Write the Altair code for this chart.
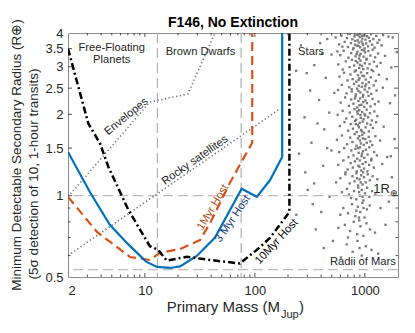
import altair as alt
import pandas as pd

FONT = "Liberation Sans"
AX = "#262626"

# ---------------- curves (Primary mass [M_Jup], radius [R_earth]) ----------------
m_1myr = [2, 3.67, 7.32, 11.1, 13.7, 20.9, 31.7, 39.2, 59.3, 86.6, 94.6, 94.6]
r_1myr = [0.99, 0.734, 0.593, 0.578, 0.614, 0.635, 0.685, 0.792, 1.116, 1.474, 1.57, 4.0]

m_3myr = [2, 3.17, 4.8, 7.0, 10.25, 12.9, 16.9, 20.9, 29.6, 43.4, 75.8, 104, 137, 177, 177]
r_3myr = [1.45, 1.03, 0.78, 0.663, 0.57, 0.545, 0.54, 0.547, 0.598, 0.70, 1.06, 0.99, 1.14, 1.39, 4.0]

m_10myr = [2, 3.06, 3.91, 4.65, 7.08, 11.1, 13.2, 15.8, 24.0, 39.2, 73, 104, 137, 206, 206]
r_10myr = [3.5, 1.85, 1.56, 1.28, 0.885, 0.65, 0.63, 0.575, 0.594, 0.578, 0.561, 0.63, 0.697, 0.87, 4.0]

m_env = [2, 11.1, 24.6, 43.4]
r_env = [0.99, 2.22, 2.38, 4.0]

m_rocky = [2, 170]
r_rocky = [0.6, 2.1]

h_lines = [1.0, 0.532]
v_lines = [13, 75]

# ---------------- stars (mass, radius) ----------------
stars = [
    (612,3.91),(687,3.83),(733,3.97),(768,3.79),(805,3.88),(838,3.94),(861,3.76),(897,3.86),(923,3.99),(948,3.81),(977,3.92),(1013,3.78),
    (1046,3.89),(1089,3.84),(1137,3.96),(1192,3.8),(1268,3.9),(1351,3.77),(542,3.85),(1463,3.93),(455,3.8),(1637,3.88),(868,3.93),(941,3.9),
    (583,3.63),(655,3.71),(702,3.55),(747,3.67),(789,3.52),(817,3.74),(846,3.59),(879,3.69),(906,3.54),(933,3.72),(962,3.61),(994,3.51),
    (1027,3.66),(1068,3.57),(1109,3.73),(1163,3.62),(1224,3.53),(1302,3.68),(624,3.56),(1417,3.6),(392,3.67),(872,3.58),(957,3.65),(812,3.62),
    (597,3.31),(641,3.44),(709,3.24),(752,3.37),(781,3.48),(823,3.28),(853,3.41),(884,3.22),(915,3.35),(939,3.46),(971,3.27),(1003,3.39),
    (1038,3.21),(1074,3.43),(1121,3.3),(1177,3.47),(1239,3.25),(1318,3.36),(563,3.42),(1526,3.29),(498,3.33),(896,3.3),(987,3.45),(841,3.34),
    (574,3.06),(629,2.93),(671,3.14),(726,2.99),(763,3.18),(798,3.03),(829,2.91),(858,3.11),(887,2.97),(912,3.16),(944,3.02),(968,2.94),
    (999,3.09),(1032,3.19),(1061,2.96),(1102,3.07),(1151,2.92),(1208,3.13),(1283,3.01),(1389,3.1),(347,3.04),(1741,2.98),(902,3.05),(826,3.15),
    (588,2.76),(646,2.85),(694,2.67),(739,2.81),(774,2.7),(809,2.88),(836,2.64),(866,2.79),(893,2.72),(921,2.86),(952,2.61),(983,2.77),
    (1017,2.69),(1049,2.84),(1086,2.63),(1131,2.74),(1189,2.89),(1257,2.66),(1342,2.8),(441,2.73),(296,2.84),(1583,2.7),(951,2.78),(877,2.68),
    (569,2.46),(617,2.57),(681,2.39),(721,2.52),(758,2.43),(794,2.59),(826,2.37),(849,2.49),(881,2.55),(909,2.41),(937,2.53),(965,2.36),
    (996,2.47),(1024,2.58),(1057,2.42),(1096,2.5),(1142,2.38),(1201,2.56),(1276,2.45),(1455,2.51),(527,2.4),(873,2.44),(1003,2.54),(759,2.48),
    (603,2.21),(662,2.31),(716,2.15),(751,2.27),(786,2.19),(821,2.33),(852,2.12),(874,2.24),(903,2.29),(929,2.17),(957,2.32),(986,2.13),
    (1011,2.25),(1043,2.2),(1079,2.34),(1124,2.14),(1172,2.28),(1233,2.18),(1329,2.23),(383,2.26),(1692,2.2),(892,2.16),(966,2.22),(812,2.29),
    (566,1.99),(628,2.06),(677,1.93),(729,2.03),(768,1.96),(803,2.09),(833,1.91),(862,2.01),(889,2.07),(918,1.94),(946,2.04),(974,1.92),
    (1006,1.98),(1039,2.08),(1071,1.95),(1113,2.02),(1157,1.9),(1219,2.05),(1297,1.97),(474,2.03),(283,1.95),(911,1.99),(851,2.05),(992,2.0),
    (592,1.81),(653,1.87),(705,1.74),(744,1.84),(779,1.77),(815,1.89),(843,1.72),(869,1.82),(897,1.86),(926,1.75),(955,1.88),(981,1.71),
    (1015,1.79),(1048,1.85),(1087,1.73),(1128,1.83),(1183,1.78),(1264,1.87),(1481,1.8),(427,1.76),(883,1.79),(939,1.73),(827,1.84),
    (557,1.61),(619,1.67),(689,1.55),(736,1.64),(771,1.58),(807,1.69),(839,1.53),(864,1.63),(891,1.66),(919,1.56),(947,1.68),(976,1.54),
    (1008,1.62),(1041,1.57),(1082,1.65),(1119,1.59),(1167,1.54),(1247,1.66),(1374,1.6),(327,1.57),(1862,1.62),(902,1.6),(958,1.63),
    (584,1.45),(648,1.5),(709,1.39),(753,1.47),(788,1.41),(822,1.49),(851,1.37),(877,1.44),(905,1.51),(933,1.4),(961,1.46),(989,1.38),
    (1021,1.48),(1058,1.42),(1097,1.51),(1146,1.37),(1213,1.45),(1286,1.41),(496,1.47),(252,1.43),(1594,1.39),(868,1.5),(941,1.43),
    (573,1.3),(637,1.35),(697,1.25),(742,1.32),(777,1.27),(812,1.34),(843,1.23),(872,1.29),(899,1.35),(927,1.24),(954,1.31),(984,1.26),
    (1016,1.33),(1052,1.23),(1094,1.3),(1143,1.35),(1208,1.27),(667,1.22),(418,1.29),(1436,1.31),(893,1.28),(962,1.22),
    (598,1.16),(664,1.2),(728,1.11),(771,1.18),(804,1.13),(838,1.21),(866,1.09),(894,1.15),(924,1.19),(953,1.1),(982,1.17),(1018,1.12),
    (1061,1.2),(1109,1.14),(1176,1.18),(549,1.12),(1297,1.15),(346,1.11),(1761,1.17),(915,1.12),(848,1.16),
    (618,1.03),(687,1.06),(748,0.98),(797,1.04),(836,0.97),(871,1.07),(903,1.0),(936,1.05),(968,0.96),(1003,1.02),(1047,1.07),(1098,0.99),
    (1163,1.04),(716,1.01),(478,0.99),(1248,1.01),(302,1.05),(885,1.03),(952,0.99),
    (638,0.9),(703,0.86),(764,0.93),(818,0.84),(862,0.91),(907,0.87),(948,0.94),(993,0.83),(1043,0.89),(1106,0.92),(597,0.85),(835,0.88),
    (401,0.87),(1387,0.9),(884,0.83),(971,0.9),
    (657,0.78),(733,0.74),(792,0.8),(851,0.72),(912,0.77),(968,0.71),(1034,0.79),(702,0.7),(574,0.76),(358,0.75),(1236,0.73),(889,0.81),(1112,0.75),
    (683,0.66),(774,0.62),(857,0.68),(938,0.6),(1019,0.65),(606,0.59),(423,0.64),(1147,0.63),(893,0.64),
    (262,3.6),(318,2.45),(371,1.85),(287,1.22),(336,0.93),(409,3.35),(237,2.9),(455,1.5),(1950,3.4),(1880,2.35),(1720,1.4),
    (1650,0.95),(1540,0.78),(1790,3.85),(238,0.85),(512,0.68),(1320,0.61),
]

# ---------------- ticks ----------------
x_tick_labels = [2, 10, 100, 1000]
y_tick_labels = [0.5, 1, 1.5, 2, 2.5, 3, 3.5, 4]
x_major = [10, 100, 1000]
x_minor = [3, 4, 5, 6, 7, 8, 9, 20, 30, 40, 50, 60, 70, 80, 90, 200, 300, 400, 500, 600, 700, 800, 900]
y_major = [1, 1.5, 2, 2.5, 3, 3.5]
y_minor = [0.6, 0.7, 0.8, 0.9]

W, H = 330, 244

XS = alt.Scale(type="log", domain=[2, 2000], nice=False, zero=False)
YS = alt.Scale(type="log", domain=[0.5, 4], nice=False, zero=False)
XA = alt.Axis(values=x_tick_labels, format="~g", ticks=False, domain=False, grid=False,
              labelFontSize=13, labelFont=FONT, labelColor=AX, labelPadding=7,
              labelOverlap=False, title=None)
YA = alt.Axis(values=y_tick_labels, format="~g", ticks=False, domain=False, grid=False,
              labelFontSize=13, labelFont=FONT, labelColor=AX, labelPadding=5,
              labelOverlap=False, title=None)


def X():
    return alt.X("m:Q", scale=XS, axis=XA)


def Y():
    return alt.Y("r:Q", scale=YS, axis=YA)


def curve(ms, rs, **kw):
    df = pd.DataFrame({"m": ms, "r": rs, "i": range(len(ms))})
    return alt.Chart(df).mark_line(clip=True, **kw).encode(x=X(), y=Y(), order="i:Q")


star_df = pd.DataFrame(stars, columns=["m", "r"])
stars_layer = alt.Chart(star_df).mark_point(filled=True, shape="square", size=5.5, color="#737373",
                                            opacity=0.95, clip=True).encode(x=X(), y=Y())

hrules = alt.Chart(pd.DataFrame({"r": h_lines})).mark_rule(
    color="#bdbdbd", strokeWidth=1.2, strokeDash=[10, 5]).encode(y=Y())
vrules = alt.Chart(pd.DataFrame({"m": v_lines})).mark_rule(
    color="#b0b0b0", strokeWidth=1.2, strokeDash=[10, 5]).encode(x=X())

env = curve(m_env, r_env, color="#6e6e6e", strokeWidth=1.6, strokeDash=[1.2, 2.6])
rocky = curve(m_rocky, r_rocky, color="#6e6e6e", strokeWidth=1.6, strokeDash=[1.2, 2.6])
c1 = curve(m_1myr, r_1myr, color="#D95319", strokeWidth=2.2, strokeDash=[9, 5])
c3 = curve(m_3myr, r_3myr, color="#0072BD", strokeWidth=2.2)
c10 = curve(m_10myr, r_10myr, color="#000000", strokeWidth=2.5, strokeDash=[7, 3, 2, 3])


# ---------------- ticks (inward) ----------------
def xticks(vals, ln):
    df = pd.DataFrame({"m": vals})
    b = alt.Chart(df).mark_rule(color=AX, strokeWidth=0.8).encode(x=X(), y=alt.value(H), y2=alt.value(H - ln))
    t = alt.Chart(df).mark_rule(color=AX, strokeWidth=0.8).encode(x=X(), y=alt.value(0), y2=alt.value(ln))
    return [b, t]


def yticks(vals, ln):
    df = pd.DataFrame({"r": vals})
    l = alt.Chart(df).mark_rule(color=AX, strokeWidth=0.8).encode(y=Y(), x=alt.value(0), x2=alt.value(ln))
    r = alt.Chart(df).mark_rule(color=AX, strokeWidth=0.8).encode(y=Y(), x=alt.value(W), x2=alt.value(W - ln))
    return [l, r]


tick_layers = xticks(x_major, 4) + xticks(x_minor, 2.5) + yticks(y_major, 4) + yticks(y_minor, 2.5)

# ---------------- in-plot annotations (data coordinates) ----------------
ann = pd.DataFrame([
    {"t": "Free-Floating", "m": 4.99, "r": 3.53, "a": 0, "c": AX, "al": "center"},
    {"t": "Planets", "m": 4.99, "r": 3.17, "a": 0, "c": AX, "al": "center"},
    {"t": "Brown Dwarfs", "m": 32.0, "r": 3.41, "a": 0, "c": AX, "al": "center"},
    {"t": "Stars", "m": 247, "r": 3.41, "a": 0, "c": AX, "al": "left"},
    {"t": "Envelopes", "m": 6.8, "r": 1.96, "a": 321, "c": AX, "al": "center"},
    {"t": "Rocky satellites", "m": 28.6, "r": 1.35, "a": 325, "c": AX, "al": "center"},
    {"t": "1Myr Host", "m": 41.6, "r": 0.905, "a": 301, "c": "#B5501C", "al": "center"},
    {"t": "3 Myr Host", "m": 63.2, "r": 0.82, "a": 304, "c": "#21407F", "al": "center"},
    {"t": "10Myr Host", "m": 158, "r": 0.675, "a": 313, "c": "#000000", "al": "center"},
    {"t": "Radii of Mars", "m": 1914, "r": 0.568, "a": 0, "c": AX, "al": "right"},
])


def ann_layer(df, align):
    return alt.Chart(df).mark_text(font=FONT, fontSize=11.2, baseline="middle", align=align).encode(
        x=X(), y=Y(), text="t:N",
        angle=alt.Angle("a:Q", scale=None),
        color=alt.Color("c:N", scale=None))


ann_layers = [ann_layer(ann[ann.al == a], a) for a in ["center", "left", "right"]]

rearth = alt.Chart(pd.DataFrame({"t": ["1R"], "m": [1690], "r": [1.06]})).mark_text(
    font=FONT, fontSize=13, align="right", baseline="middle", color=AX).encode(x=X(), y=Y(), text="t:N")
rearth_sub = alt.Chart(pd.DataFrame({"t": ["⊕"], "m": [1830], "r": [1.02]})).mark_text(
    font=FONT, fontSize=9, align="center", baseline="middle", color=AX).encode(x=X(), y=Y(), text="t:N")


# ---------------- outside texts (pixel positions relative to plot) ----------------
def otext(txt, px, py, size, angle=0, align="center", baseline="middle", weight="normal"):
    ch = alt.Chart(pd.DataFrame({"t": [txt]})).mark_text(
        font=FONT, fontSize=size, align=align, baseline=baseline, fontWeight=weight,
        angle=angle, color=AX if weight == "normal" else "#000000")
    return ch.encode(x=alt.value(px), y=alt.value(py), text="t:N")


outs = [
    otext("F146, No Extinction", W / 2, -10, 14, weight="bold"),
    otext("Minimum Detectable Secondary Radius (R⊕)", -51, 122, 13.5, angle=270),
    otext("(5σ detection of 10, 1-hour transits)", -34, 141, 13.5, angle=270),
    otext("Primary Mass (M", 212, 279, 15, align="right", baseline="alphabetic"),
    otext("Jup", 213, 285, 11, align="left", baseline="alphabetic"),
    otext(")", 231, 279, 15, align="left", baseline="alphabetic"),
]

chart = alt.layer(
    stars_layer, hrules, vrules, env, rocky, c1, c3, c10,
    *tick_layers, *ann_layers, rearth, rearth_sub, *outs
).properties(
    width=W, height=H,
    autosize=alt.AutoSizeParams(type="none"),
    padding={"left": 60, "top": 25, "right": 9, "bottom": 48},
).configure_view(stroke="#8c8c8c", strokeWidth=1)

chart.save("out.html", embed_options={"renderer": "svg", "actions": False})
